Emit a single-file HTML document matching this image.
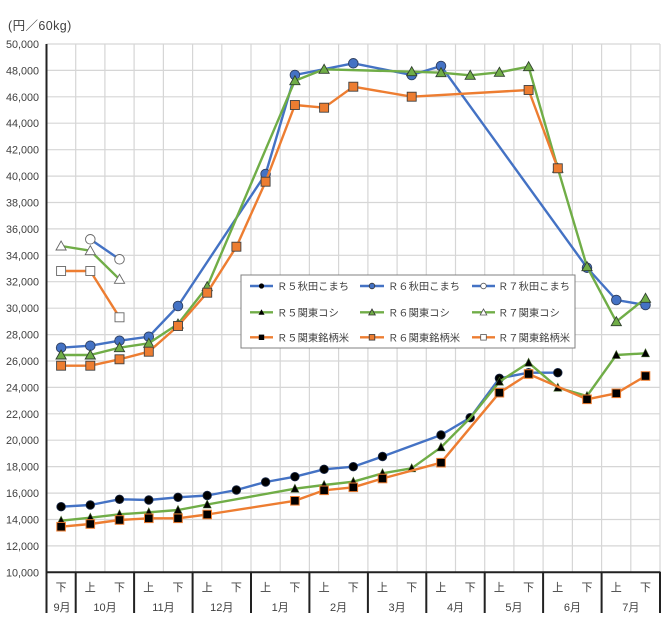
<!DOCTYPE html>
<html><head><meta charset="utf-8"><style>
html,body{margin:0;padding:0;background:#fff;}
svg{display:block;}
text{font-family:"Liberation Sans","Noto Sans CJK JP",sans-serif;fill:#404040;}
</style></head><body>
<svg width="672" height="625" viewBox="0 0 672 625" xmlns="http://www.w3.org/2000/svg">
<rect width="672" height="625" fill="#fff"/>
<text x="8" y="30" font-size="12.5" letter-spacing="0.4">(円／60kg)</text>
<g stroke="#d6d6d6" stroke-width="1.2">
<line x1="46.5" y1="44" x2="660" y2="44"/><line x1="46.5" y1="70.4" x2="660" y2="70.4"/><line x1="46.5" y1="96.8" x2="660" y2="96.8"/><line x1="46.5" y1="123.2" x2="660" y2="123.2"/><line x1="46.5" y1="149.7" x2="660" y2="149.7"/><line x1="46.5" y1="176.1" x2="660" y2="176.1"/><line x1="46.5" y1="202.5" x2="660" y2="202.5"/><line x1="46.5" y1="228.9" x2="660" y2="228.9"/><line x1="46.5" y1="255.3" x2="660" y2="255.3"/><line x1="46.5" y1="281.7" x2="660" y2="281.7"/><line x1="46.5" y1="308.2" x2="660" y2="308.2"/><line x1="46.5" y1="334.6" x2="660" y2="334.6"/><line x1="46.5" y1="361" x2="660" y2="361"/><line x1="46.5" y1="387.4" x2="660" y2="387.4"/><line x1="46.5" y1="413.8" x2="660" y2="413.8"/><line x1="46.5" y1="440.2" x2="660" y2="440.2"/><line x1="46.5" y1="466.6" x2="660" y2="466.6"/><line x1="46.5" y1="493.1" x2="660" y2="493.1"/><line x1="46.5" y1="519.5" x2="660" y2="519.5"/><line x1="46.5" y1="545.9" x2="660" y2="545.9"/>
<line x1="75.7" y1="44" x2="75.7" y2="572"/><line x1="104.9" y1="44" x2="104.9" y2="572"/><line x1="134.1" y1="44" x2="134.1" y2="572"/><line x1="163.4" y1="44" x2="163.4" y2="572"/><line x1="192.6" y1="44" x2="192.6" y2="572"/><line x1="221.8" y1="44" x2="221.8" y2="572"/><line x1="251" y1="44" x2="251" y2="572"/><line x1="280.2" y1="44" x2="280.2" y2="572"/><line x1="309.4" y1="44" x2="309.4" y2="572"/><line x1="338.6" y1="44" x2="338.6" y2="572"/><line x1="367.9" y1="44" x2="367.9" y2="572"/><line x1="397.1" y1="44" x2="397.1" y2="572"/><line x1="426.3" y1="44" x2="426.3" y2="572"/><line x1="455.5" y1="44" x2="455.5" y2="572"/><line x1="484.7" y1="44" x2="484.7" y2="572"/><line x1="513.9" y1="44" x2="513.9" y2="572"/><line x1="543.1" y1="44" x2="543.1" y2="572"/><line x1="572.4" y1="44" x2="572.4" y2="572"/><line x1="601.6" y1="44" x2="601.6" y2="572"/><line x1="630.8" y1="44" x2="630.8" y2="572"/><line x1="660" y1="44" x2="660" y2="572"/>
</g>
<g stroke="#222" stroke-width="2">
<line x1="46.5" y1="44" x2="46.5" y2="613"/>
<line x1="46.5" y1="572.3" x2="660.5" y2="572.3"/>
<line x1="75.7" y1="572" x2="75.7" y2="613"/><line x1="134.1" y1="572" x2="134.1" y2="613"/><line x1="192.6" y1="572" x2="192.6" y2="613"/><line x1="251" y1="572" x2="251" y2="613"/><line x1="309.4" y1="572" x2="309.4" y2="613"/><line x1="367.9" y1="572" x2="367.9" y2="613"/><line x1="426.3" y1="572" x2="426.3" y2="613"/><line x1="484.7" y1="572" x2="484.7" y2="613"/><line x1="543.1" y1="572" x2="543.1" y2="613"/><line x1="601.6" y1="572" x2="601.6" y2="613"/><line x1="660" y1="572" x2="660" y2="613"/>
</g>
<g font-size="10.8" text-anchor="end">
<text x="39" y="48">50,000</text><text x="39" y="74.4">48,000</text><text x="39" y="100.8">46,000</text><text x="39" y="127.2">44,000</text><text x="39" y="153.7">42,000</text><text x="39" y="180.1">40,000</text><text x="39" y="206.5">38,000</text><text x="39" y="232.9">36,000</text><text x="39" y="259.3">34,000</text><text x="39" y="285.7">32,000</text><text x="39" y="312.2">30,000</text><text x="39" y="338.6">28,000</text><text x="39" y="365">26,000</text><text x="39" y="391.4">24,000</text><text x="39" y="417.8">22,000</text><text x="39" y="444.2">20,000</text><text x="39" y="470.6">18,000</text><text x="39" y="497.1">16,000</text><text x="39" y="523.5">14,000</text><text x="39" y="549.9">12,000</text><text x="39" y="576.3">10,000</text>
</g>
<g font-size="11" text-anchor="middle" style="fill:#595959">
<text x="61.1" y="591">下</text><text x="90.3" y="591">上</text><text x="119.5" y="591">下</text><text x="148.8" y="591">上</text><text x="178" y="591">下</text><text x="207.2" y="591">上</text><text x="236.4" y="591">下</text><text x="265.6" y="591">上</text><text x="294.9" y="591">下</text><text x="324.1" y="591">上</text><text x="353.3" y="591">下</text><text x="382.5" y="591">上</text><text x="411.7" y="591">下</text><text x="441" y="591">上</text><text x="470.2" y="591">下</text><text x="499.4" y="591">上</text><text x="528.6" y="591">下</text><text x="557.8" y="591">上</text><text x="587" y="591">下</text><text x="616.3" y="591">上</text><text x="645.5" y="591">下</text>
</g>
<g font-size="11" text-anchor="middle" style="fill:#404040">
<text x="62" y="611">9月</text><text x="105" y="611">10月</text><text x="163.4" y="611">11月</text><text x="221.8" y="611">12月</text><text x="280.2" y="611">1月</text><text x="338.6" y="611">2月</text><text x="397.1" y="611">3月</text><text x="455.5" y="611">4月</text><text x="513.9" y="611">5月</text><text x="572.4" y="611">6月</text><text x="630.8" y="611">7月</text>
</g>

<!-- Akita series (blue) -->
<g fill="none" stroke="#4472C4" stroke-width="2.4" stroke-linejoin="round">
<polyline points="61.1,506.7 90.3,505 119.5,499.3 148.8,500 178,497.3 207.2,495.5 236.4,490 265.6,482 294.9,476.7 324.1,469.3 353.3,466.7 382.5,456.5 441,435 470.2,417.7 499.4,378.3 528.6,372.7 557.8,372.7"/>
<polyline points="61.1,347.7 90.3,345.7 119.5,340.7 148.8,336.7 178,306 265.6,174 294.9,75 353.3,63.3 411.7,75 441,66 587,267.7 616.3,300 645.5,305"/>
<polyline points="90.3,239.3 119.5,259.3"/>
</g>
<g fill="#000" stroke="#1a2a4a" stroke-width="0.8">
<circle cx="61.1" cy="506.7" r="4.3"/><circle cx="90.3" cy="505" r="4.3"/><circle cx="119.5" cy="499.3" r="4.3"/><circle cx="148.8" cy="500" r="4.3"/><circle cx="178" cy="497.3" r="4.3"/><circle cx="207.2" cy="495.5" r="4.3"/><circle cx="236.4" cy="490" r="4.3"/><circle cx="265.6" cy="482" r="4.3"/><circle cx="294.9" cy="476.7" r="4.3"/><circle cx="324.1" cy="469.3" r="4.3"/><circle cx="353.3" cy="466.7" r="4.3"/><circle cx="382.5" cy="456.5" r="4.3"/><circle cx="441" cy="435" r="4.3"/><circle cx="470.2" cy="417.7" r="4.3"/><circle cx="499.4" cy="378.3" r="4.3"/><circle cx="528.6" cy="372.7" r="4.3"/><circle cx="557.8" cy="372.7" r="4.3"/>
</g>
<g fill="#4472C4" stroke="#2f3f5f" stroke-width="0.9">
<circle cx="61.1" cy="347.7" r="4.8"/><circle cx="90.3" cy="345.7" r="4.8"/><circle cx="119.5" cy="340.7" r="4.8"/><circle cx="148.8" cy="336.7" r="4.8"/><circle cx="178" cy="306" r="4.8"/><circle cx="265.6" cy="174" r="4.8"/><circle cx="294.9" cy="75" r="4.8"/><circle cx="353.3" cy="63.3" r="4.8"/><circle cx="411.7" cy="75" r="4.8"/><circle cx="441" cy="66" r="4.8"/><circle cx="587" cy="267.7" r="4.8"/><circle cx="616.3" cy="300" r="4.8"/><circle cx="645.5" cy="305" r="4.8"/>
</g>
<g fill="#fff" stroke="#666" stroke-width="0.9">
<circle cx="90.3" cy="239.3" r="4.8"/><circle cx="119.5" cy="259.3" r="4.8"/>
</g>

<!-- Kanto koshi (green) -->
<g fill="none" stroke="#70AD47" stroke-width="2.4" stroke-linejoin="round">
<polyline points="61.1,520.7 90.3,517.7 119.5,514.3 148.8,512.3 178,510 207.2,504.5 294.9,488.7 324.1,485 353.3,481.7 382.5,473.3 411.7,468.3 441,447.3 470.2,418 499.4,381.7 528.6,362.7 557.8,387.7 587,396 616.3,355 645.5,353.3"/>
<polyline points="61.1,355 90.3,355 119.5,347.7 148.8,343.3 178,324 207.2,286.7 294.9,80.7 324.1,69.3 411.7,71.7 441,72.7 470.2,75.3 499.4,72.3 528.6,66.7 557.8,168.3 587,266.7 616.3,321.7 645.5,298.3"/>
<polyline points="61.1,246 90.3,250.7 119.5,279.3"/>
</g>
<g fill="#000" stroke="#3d5f26" stroke-width="0.6">
<polygon points="61.1,516.2 57.1,524.2 65.1,524.2"/><polygon points="90.3,513.2 86.3,521.2 94.3,521.2"/><polygon points="119.5,509.8 115.5,517.8 123.5,517.8"/><polygon points="148.8,507.8 144.8,515.8 152.8,515.8"/><polygon points="178,505.5 174,513.5 182,513.5"/><polygon points="207.2,500 203.2,508 211.2,508"/><polygon points="294.9,484.2 290.9,492.2 298.9,492.2"/><polygon points="324.1,480.5 320.1,488.5 328.1,488.5"/><polygon points="353.3,477.2 349.3,485.2 357.3,485.2"/><polygon points="382.5,468.8 378.5,476.8 386.5,476.8"/><polygon points="411.7,463.8 407.7,471.8 415.7,471.8"/><polygon points="441,442.8 437,450.8 445,450.8"/><polygon points="499.4,377.2 495.4,385.2 503.4,385.2"/><polygon points="528.6,358.2 524.6,366.2 532.6,366.2"/><polygon points="557.8,383.2 553.8,391.2 561.8,391.2"/><polygon points="587,391.5 583,399.5 591,399.5"/><polygon points="616.3,350.5 612.3,358.5 620.3,358.5"/><polygon points="645.5,348.8 641.5,356.8 649.5,356.8"/>
</g>
<g fill="#70AD47" stroke="#2f3f2f" stroke-width="0.9">
<polygon points="61.1,350 56,359 66.2,359"/><polygon points="90.3,350 85.2,359 95.4,359"/><polygon points="119.5,342.7 114.4,351.7 124.6,351.7"/><polygon points="148.8,338.3 143.7,347.3 153.9,347.3"/><polygon points="178,319 172.9,328 183.1,328"/><polygon points="207.2,281.7 202.1,290.7 212.3,290.7"/><polygon points="294.9,75.7 289.8,84.7 300,84.7"/><polygon points="324.1,64.3 319,73.3 329.2,73.3"/><polygon points="411.7,66.7 406.6,75.7 416.8,75.7"/><polygon points="441,67.7 435.9,76.7 446.1,76.7"/><polygon points="470.2,70.3 465.1,79.3 475.3,79.3"/><polygon points="499.4,67.3 494.3,76.3 504.5,76.3"/><polygon points="528.6,61.7 523.5,70.7 533.7,70.7"/><polygon points="557.8,163.3 552.7,172.3 562.9,172.3"/><polygon points="587,261.7 581.9,270.7 592.1,270.7"/><polygon points="616.3,316.7 611.2,325.7 621.4,325.7"/><polygon points="645.5,293.3 640.4,302.3 650.6,302.3"/>
</g>
<g fill="#fff" stroke="#666" stroke-width="0.9">
<polygon points="61.1,241 56,250 66.2,250"/><polygon points="90.3,245.7 85.2,254.7 95.4,254.7"/><polygon points="119.5,274.3 114.4,283.3 124.6,283.3"/>
</g>

<!-- Kanto brand rice (orange) -->
<g fill="none" stroke="#ED7D31" stroke-width="2.4" stroke-linejoin="round">
<polyline points="61.1,526.7 90.3,524 119.5,520 148.8,518.3 178,518.3 207.2,514.5 294.9,500.8 324.1,490.3 353.3,487.3 382.5,478.5 441,462.7 499.4,392.7 528.6,374 587,399.3 616.3,393.3 645.5,376"/>
<polyline points="61.1,365.7 90.3,365.7 119.5,359.3 148.8,351.7 178,326 207.2,292.7 236.4,246.7 265.6,181.7 294.9,105 324.1,107.7 353.3,86.7 411.7,96.7 528.6,90 557.8,168.3"/>
<polyline points="61.1,271 90.3,271 119.5,317.3"/>
</g>
<g fill="#000" stroke="#ED7D31" stroke-width="1">
<rect x="56.8" y="522.4" width="8.6" height="8.6"/><rect x="86" y="519.7" width="8.6" height="8.6"/><rect x="115.2" y="515.7" width="8.6" height="8.6"/><rect x="144.5" y="514" width="8.6" height="8.6"/><rect x="173.7" y="514" width="8.6" height="8.6"/><rect x="202.9" y="510.2" width="8.6" height="8.6"/><rect x="290.6" y="496.5" width="8.6" height="8.6"/><rect x="319.8" y="486" width="8.6" height="8.6"/><rect x="349" y="483" width="8.6" height="8.6"/><rect x="378.2" y="474.2" width="8.6" height="8.6"/><rect x="436.7" y="458.4" width="8.6" height="8.6"/><rect x="495.1" y="388.4" width="8.6" height="8.6"/><rect x="524.3" y="369.7" width="8.6" height="8.6"/><rect x="582.7" y="395" width="8.6" height="8.6"/><rect x="612" y="389" width="8.6" height="8.6"/><rect x="641.2" y="371.7" width="8.6" height="8.6"/>
</g>
<g fill="#ED7D31" stroke="#404040" stroke-width="0.9">
<rect x="56.6" y="361.2" width="9" height="9"/><rect x="85.8" y="361.2" width="9" height="9"/><rect x="115" y="354.8" width="9" height="9"/><rect x="144.3" y="347.2" width="9" height="9"/><rect x="173.5" y="321.5" width="9" height="9"/><rect x="202.7" y="288.2" width="9" height="9"/><rect x="231.9" y="242.2" width="9" height="9"/><rect x="261.1" y="177.2" width="9" height="9"/><rect x="290.4" y="100.5" width="9" height="9"/><rect x="319.6" y="103.2" width="9" height="9"/><rect x="348.8" y="82.2" width="9" height="9"/><rect x="407.2" y="92.2" width="9" height="9"/><rect x="524.1" y="85.5" width="9" height="9"/><rect x="553.3" y="163.8" width="9" height="9"/>
</g>
<g fill="#fff" stroke="#666" stroke-width="0.9">
<rect x="56.6" y="266.5" width="9" height="9"/><rect x="85.8" y="266.5" width="9" height="9"/><rect x="115" y="312.8" width="9" height="9"/>
</g>

<!-- Legend -->
<rect x="241" y="275" width="334" height="73" fill="#fff" stroke="#808080" stroke-width="1"/>
<g stroke-width="2.4">
<line x1="250" y1="286" x2="273" y2="286" stroke="#4472C4"/><line x1="360" y1="286" x2="384" y2="286" stroke="#4472C4"/><line x1="472" y1="286" x2="495" y2="286" stroke="#4472C4"/>
<line x1="250" y1="312.3" x2="273" y2="312.3" stroke="#70AD47"/><line x1="360" y1="312.3" x2="384" y2="312.3" stroke="#70AD47"/><line x1="472" y1="312.3" x2="495" y2="312.3" stroke="#70AD47"/>
<line x1="250" y1="337.3" x2="273" y2="337.3" stroke="#ED7D31"/><line x1="360" y1="337.3" x2="384" y2="337.3" stroke="#ED7D31"/><line x1="472" y1="337.3" x2="495" y2="337.3" stroke="#ED7D31"/>
</g>
<circle cx="261.5" cy="286" r="2.6" fill="#000"/>
<circle cx="372" cy="286" r="2.8" fill="#4472C4" stroke="#333" stroke-width="0.8"/>
<circle cx="483.5" cy="286" r="2.8" fill="#fff" stroke="#555" stroke-width="0.8"/>
<polygon points="261.5,309.3 258.5,314.8 264.5,314.8" fill="#000"/>
<polygon points="372,309 368.7,315 375.3,315" fill="#70AD47" stroke="#333" stroke-width="0.8"/>
<polygon points="483.5,309 480.2,315 486.8,315" fill="#fff" stroke="#555" stroke-width="0.8"/>
<rect x="258.8" y="334.6" width="5.4" height="5.4" fill="#000"/>
<rect x="369.2" y="334.5" width="5.6" height="5.6" fill="#ED7D31" stroke="#333" stroke-width="0.8"/>
<rect x="480.7" y="334.5" width="5.6" height="5.6" fill="#fff" stroke="#555" stroke-width="0.8"/>
<g font-size="10.3">
<text x="277" y="290">Ｒ５秋田こまち</text><text x="388" y="290">Ｒ６秋田こまち</text><text x="498" y="290">Ｒ７秋田こまち</text>
<text x="277" y="316.3">Ｒ５関東コシ</text><text x="388" y="316.3">Ｒ６関東コシ</text><text x="498" y="316.3">Ｒ７関東コシ</text>
<text x="277" y="341.3">Ｒ５関東銘柄米</text><text x="388" y="341.3">Ｒ６関東銘柄米</text><text x="498" y="341.3">Ｒ７関東銘柄米</text>
</g>
</svg>
</body></html>
